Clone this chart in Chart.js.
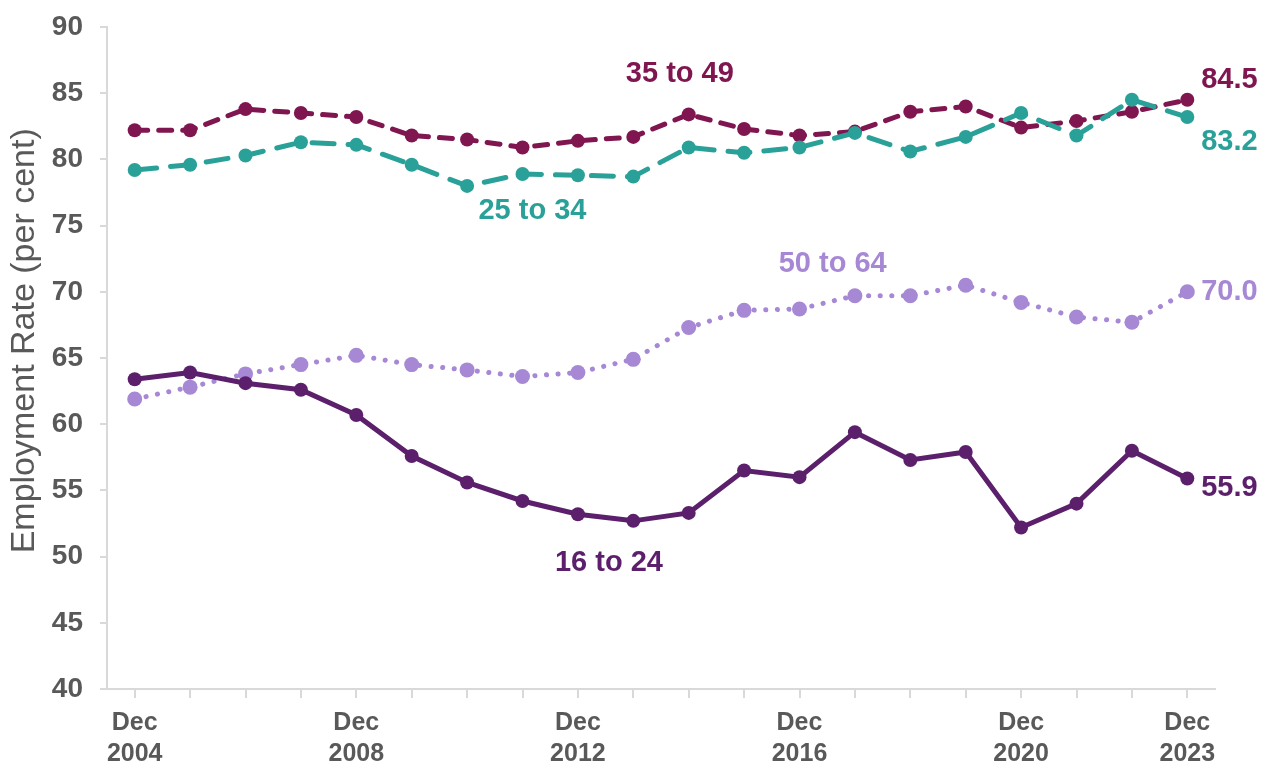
<!DOCTYPE html>
<html>
<head>
<meta charset="utf-8">
<title>Employment rate by age group</title>
<script src="https://cdn.jsdelivr.net/npm/chart.js@4.4.1/dist/chart.umd.min.js"></script>
<style>
  html, body { margin: 0; padding: 0; background: #fff; }
  #wrap { width: 1277px; height: 769px; }
</style>
</head>
<body>
<div id="wrap"><canvas id="chart" width="1277" height="769"></canvas></div>
<script>
"use strict";

// years on the x axis (all Dec)
const years = ["2004", "2005", "2006", "2007", "2008", "2009", "2010", "2011", "2012", "2013",
  "2014", "2015", "2016", "2017", "2018", "2019", "2020", "2021", "2022", "2023"];
// which years get a label under the axis
const shownYears = ["2004", "2008", "2012", "2016", "2020", "2023"];

// employment rate, per cent
const age16to24 = [63.4, 63.9, 63.1, 62.6, 60.7, 57.6, 55.6, 54.2, 53.2, 52.7,
  53.3, 56.5, 56.0, 59.4, 57.3, 57.9, 52.2, 54.0, 58.0, 55.9];
const age25to34 = [79.2, 79.6, 80.3, 81.3, 81.1, 79.6, 78.0, 78.9, 78.8, 78.7,
  80.9, 80.5, 80.9, 82.0, 80.6, 81.7, 83.5, 81.8, 84.5, 83.2];
const age35to49 = [82.2, 82.2, 83.8, 83.5, 83.2, 81.8, 81.5, 80.9, 81.4, 81.7,
  83.4, 82.3, 81.8, 82.1, 83.6, 84.0, 82.4, 82.9, 83.6, 84.5];
const age50to64 = [61.9, 62.8, 63.8, 64.5, 65.2, 64.5, 64.1, 63.6, 63.9, 64.9,
  67.3, 68.6, 68.7, 69.7, 69.7, 70.5, 69.2, 68.1, 67.7, 70.0];

const yTicks = [40, 45, 50, 55, 60, 65, 70, 75, 80, 85, 90];
const yTitle = "Employment Rate (per cent)";

(function() {
  window.addEventListener("load", init);

  const GREY = "#595959";
  const AXIS = "#d9d9d9";
  const C16 = "#5b1f6b";
  const C25 = "#2aa198";
  const C35 = "#801650";
  const C50 = "#a688d4";
  const FONT = "'Liberation Sans', Arial, sans-serif";

  // text placed on the chart, anchored in data units (x = year index)
  const notes = [
    { text: "35 to 49", color: C35, x: 9.84, y: 86.45, align: "center" },
    { text: "25 to 34", color: C25, x: 7.18, y: 76.1, align: "center" },
    { text: "50 to 64", color: C50, x: 12.6, y: 72.1, align: "center" },
    { text: "16 to 24", color: C16, x: 8.56, y: 49.5, align: "center" },
    { text: "84.5", color: C35, x: 19.25, y: 86.0, align: "left" },
    { text: "83.2", color: C25, x: 19.25, y: 81.3, align: "left" },
    { text: "70.0", color: C50, x: 19.25, y: 70.0, align: "left" },
    { text: "55.9", color: C16, x: 19.25, y: 55.2, align: "left" }
  ];

  const notesPlugin = {
    id: "notes",
    afterDatasetsDraw(chart) {
      const ctx = chart.ctx;
      const xs = chart.scales.x;
      const ys = chart.scales.y;
      ctx.save();
      ctx.font = "bold 29px " + FONT;
      ctx.textBaseline = "middle";
      notes.forEach(n => {
        ctx.fillStyle = n.color;
        ctx.textAlign = n.align;
        ctx.fillText(n.text, xs.getPixelForValue(n.x), ys.getPixelForValue(n.y));
      });

      // y axis title, sits a little above the middle of the axis
      ctx.translate(25, ys.getPixelForValue(66.3));
      ctx.rotate(-Math.PI / 2);
      ctx.font = "34px " + FONT;
      ctx.fillStyle = GREY;
      ctx.textAlign = "center";
      ctx.fillText(yTitle, 0, 0);
      ctx.restore();
    }
  };

  function series(label, data, color, width, dash, radius) {
    return {
      label: label,
      data: data,
      borderColor: color,
      backgroundColor: color,
      pointBackgroundColor: color,
      pointBorderColor: color,
      borderWidth: width,
      borderDash: dash,
      borderCapStyle: "round",
      pointRadius: radius,
      pointBorderWidth: 0,
      tension: 0,
      fill: false
    };
  }

  function init() {
    new Chart(id("chart"), {
      type: "line",
      data: {
        labels: years,
        datasets: [
          series("16 to 24", age16to24, C16, 5, [], 7),
          series("25 to 34", age25to34, C25, 5, [22, 14], 7),
          series("35 to 49", age35to49, C35, 5, [13, 11], 7),
          series("50 to 64", age50to64, C50, 5, [0.1, 11.5], 7.5)
        ]
      },
      options: {
        responsive: false,
        animation: false,
        layout: { padding: { top: 27, right: 62, left: 0, bottom: 0 } },
        plugins: {
          legend: { display: false },
          tooltip: { enabled: false }
        },
        scales: {
          x: {
            type: "category",
            offset: true,
            grid: {
              offset: false,
              drawOnChartArea: false,
              drawTicks: true,
              tickLength: 9,
              color: AXIS,
              lineWidth: 2
            },
            border: { display: true, color: AXIS, width: 2 },
            ticks: {
              autoSkip: false,
              maxRotation: 0,
              padding: 9,
              color: GREY,
              font: { family: FONT, size: 25, weight: "bold", lineHeight: 1.25 },
              callback: function(value, index) {
                const yr = years[index];
                return shownYears.includes(yr) ? ["Dec", yr] : "";
              }
            },
            afterFit: function(scale) { scale.height = 80; }
          },
          y: {
            min: 40,
            max: 90,
            afterBuildTicks: function(scale) {
              scale.ticks = yTicks.map(v => ({ value: v }));
            },
            grid: {
              drawOnChartArea: false,
              drawTicks: true,
              tickLength: 7,
              color: AXIS,
              lineWidth: 2
            },
            border: { display: true, color: AXIS, width: 2 },
            ticks: {
              padding: 17,
              color: GREY,
              font: { family: FONT, size: 28, weight: "bold" }
            },
            afterFit: function(scale) {
              scale.width = 107;
              scale.paddingTop = 0;
              scale.paddingBottom = 0;
            }
          }
        }
      },
      plugins: [notesPlugin]
    });
  }

  function id(name) {
    return document.getElementById(name);
  }
})();
</script>
</body>
</html>
